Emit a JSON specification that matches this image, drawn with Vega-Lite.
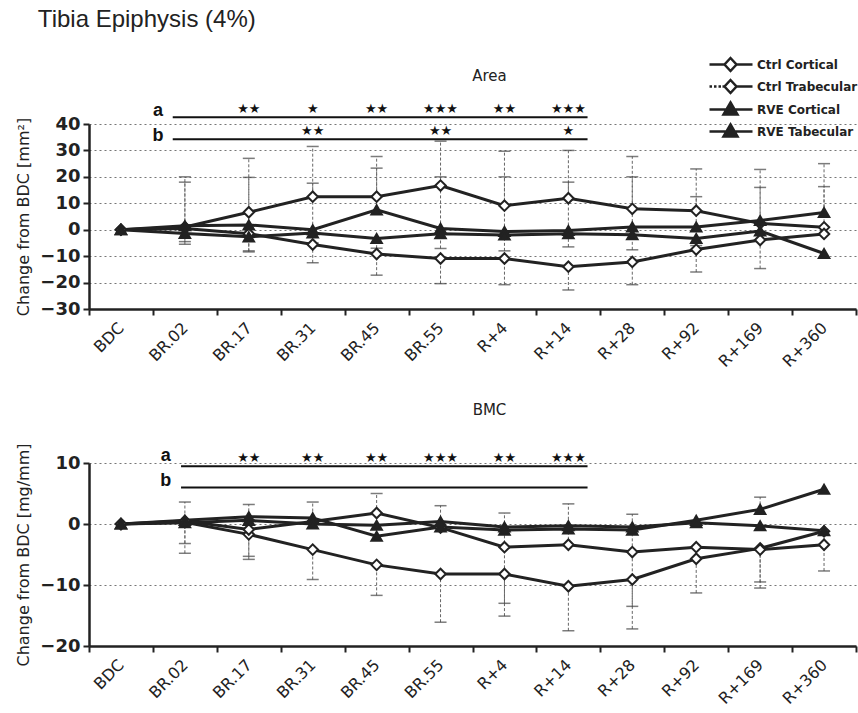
{
  "$schema": "https://vega.github.io/schema/vega-lite/v6.json",
  "padding": {"left": 15, "top": 8, "right": 0, "bottom": 0},
  "background": "white",
  "title": {"text": "Tibia Epiphysis (4%)", "anchor": "start", "font": "Liberation Sans", "fontSize": 24, "fontWeight": "normal", "color": "#222", "dx": 22, "offset": 26},
  "config": {
    "view": {"stroke": null},
    "axis": {"labelFont": "DejaVu Sans", "titleFont": "DejaVu Sans", "labelColor": "#222", "titleColor": "#222", "domainColor": "#222", "tickColor": "#222"},
    "title": {"font": "DejaVu Sans", "fontSize": 15, "fontWeight": "normal", "color": "#222"}
  },
  "datasets": {
    "pts": [
      {"p": "Area", "s": "Ctrl Cortical", "i": 0, "v": 0, "lo": 0, "hi": 0},
      {"p": "Area", "s": "Ctrl Cortical", "i": 1, "v": 1, "lo": 1, "hi": 20},
      {"p": "Area", "s": "Ctrl Cortical", "i": 2, "v": 6.6, "lo": 6.6, "hi": 27},
      {"p": "Area", "s": "Ctrl Cortical", "i": 3, "v": 12.5, "lo": 12.5, "hi": 31.5},
      {"p": "Area", "s": "Ctrl Cortical", "i": 4, "v": 12.5, "lo": 12.5, "hi": 27.7},
      {"p": "Area", "s": "Ctrl Cortical", "i": 5, "v": 16.7, "lo": 16.7, "hi": 33.5},
      {"p": "Area", "s": "Ctrl Cortical", "i": 6, "v": 9.1, "lo": 9.1, "hi": 29.7},
      {"p": "Area", "s": "Ctrl Cortical", "i": 7, "v": 11.9, "lo": 11.9, "hi": 30},
      {"p": "Area", "s": "Ctrl Cortical", "i": 8, "v": 7.9, "lo": 7.9, "hi": 27.7},
      {"p": "Area", "s": "Ctrl Cortical", "i": 9, "v": 7.2, "lo": 7.2, "hi": 23},
      {"p": "Area", "s": "Ctrl Cortical", "i": 10, "v": 2.4, "lo": 2.4, "hi": 22.8},
      {"p": "Area", "s": "Ctrl Cortical", "i": 11, "v": 0.9, "lo": 0.9, "hi": 25},
      {"p": "Area", "s": "Ctrl Trabecular", "i": 0, "v": 0, "lo": 0, "hi": 0},
      {"p": "Area", "s": "Ctrl Trabecular", "i": 1, "v": 0.5, "lo": -5.5, "hi": 0.5},
      {"p": "Area", "s": "Ctrl Trabecular", "i": 2, "v": -1.5, "lo": -8.4, "hi": -1.5},
      {"p": "Area", "s": "Ctrl Trabecular", "i": 3, "v": -5.6, "lo": -12.5, "hi": -5.6},
      {"p": "Area", "s": "Ctrl Trabecular", "i": 4, "v": -9.2, "lo": -17.2, "hi": -9.2},
      {"p": "Area", "s": "Ctrl Trabecular", "i": 5, "v": -10.9, "lo": -20.4, "hi": -10.9},
      {"p": "Area", "s": "Ctrl Trabecular", "i": 6, "v": -10.9, "lo": -20.8, "hi": -10.9},
      {"p": "Area", "s": "Ctrl Trabecular", "i": 7, "v": -14, "lo": -22.8, "hi": -14},
      {"p": "Area", "s": "Ctrl Trabecular", "i": 8, "v": -12.2, "lo": -20.8, "hi": -12.2},
      {"p": "Area", "s": "Ctrl Trabecular", "i": 9, "v": -7.5, "lo": -16, "hi": -7.5},
      {"p": "Area", "s": "Ctrl Trabecular", "i": 10, "v": -3.9, "lo": -14.7, "hi": -3.9},
      {"p": "Area", "s": "Ctrl Trabecular", "i": 11, "v": -1.6, "lo": -1.6, "hi": -1.6},
      {"p": "Area", "s": "RVE Cortical", "i": 0, "v": 0, "lo": 0, "hi": 0},
      {"p": "Area", "s": "RVE Cortical", "i": 1, "v": 1.5, "lo": 1.5, "hi": 18},
      {"p": "Area", "s": "RVE Cortical", "i": 2, "v": 1.8, "lo": 1.8, "hi": 19.8},
      {"p": "Area", "s": "RVE Cortical", "i": 3, "v": 0, "lo": 0, "hi": 17.6},
      {"p": "Area", "s": "RVE Cortical", "i": 4, "v": 7.5, "lo": 7.5, "hi": 23.3},
      {"p": "Area", "s": "RVE Cortical", "i": 5, "v": 0.5, "lo": 0.5, "hi": 20},
      {"p": "Area", "s": "RVE Cortical", "i": 6, "v": -0.7, "lo": -0.7, "hi": 20},
      {"p": "Area", "s": "RVE Cortical", "i": 7, "v": -0.3, "lo": -0.3, "hi": 18},
      {"p": "Area", "s": "RVE Cortical", "i": 8, "v": 1, "lo": 1, "hi": 20},
      {"p": "Area", "s": "RVE Cortical", "i": 9, "v": 1, "lo": 1, "hi": 12.5},
      {"p": "Area", "s": "RVE Cortical", "i": 10, "v": 3.5, "lo": 3.5, "hi": 16},
      {"p": "Area", "s": "RVE Cortical", "i": 11, "v": 6.5, "lo": 6.5, "hi": 16.3},
      {"p": "Area", "s": "RVE Tabecular", "i": 0, "v": 0, "lo": 0, "hi": 0},
      {"p": "Area", "s": "RVE Tabecular", "i": 1, "v": -1.4, "lo": -4.5, "hi": -1.4},
      {"p": "Area", "s": "RVE Tabecular", "i": 2, "v": -2.7, "lo": -8, "hi": -2.7},
      {"p": "Area", "s": "RVE Tabecular", "i": 3, "v": -1.2, "lo": -5, "hi": -1.2},
      {"p": "Area", "s": "RVE Tabecular", "i": 4, "v": -3.3, "lo": -7, "hi": -3.3},
      {"p": "Area", "s": "RVE Tabecular", "i": 5, "v": -1.5, "lo": -7.1, "hi": -1.5},
      {"p": "Area", "s": "RVE Tabecular", "i": 6, "v": -2, "lo": -8, "hi": -2},
      {"p": "Area", "s": "RVE Tabecular", "i": 7, "v": -1.5, "lo": -6.5, "hi": -1.5},
      {"p": "Area", "s": "RVE Tabecular", "i": 8, "v": -1.9, "lo": -7.6, "hi": -1.9},
      {"p": "Area", "s": "RVE Tabecular", "i": 9, "v": -3.3, "lo": -6, "hi": -3.3},
      {"p": "Area", "s": "RVE Tabecular", "i": 10, "v": -0.5, "lo": -4, "hi": -0.5},
      {"p": "Area", "s": "RVE Tabecular", "i": 11, "v": -9, "lo": -9, "hi": -9},
      {"p": "BMC", "s": "Ctrl Cortical", "i": 0, "v": 0, "lo": 0, "hi": 0},
      {"p": "BMC", "s": "Ctrl Cortical", "i": 1, "v": 0.3, "lo": -4.8, "hi": 0.3},
      {"p": "BMC", "s": "Ctrl Cortical", "i": 2, "v": -1.7, "lo": -5.8, "hi": -1.7},
      {"p": "BMC", "s": "Ctrl Cortical", "i": 3, "v": -4.2, "lo": -9.1, "hi": -4.2},
      {"p": "BMC", "s": "Ctrl Cortical", "i": 4, "v": -6.7, "lo": -11.7, "hi": -6.7},
      {"p": "BMC", "s": "Ctrl Cortical", "i": 5, "v": -8.2, "lo": -16.1, "hi": -8.2},
      {"p": "BMC", "s": "Ctrl Cortical", "i": 6, "v": -8.2, "lo": -15.1, "hi": -8.2},
      {"p": "BMC", "s": "Ctrl Cortical", "i": 7, "v": -10.2, "lo": -17.5, "hi": -10.2},
      {"p": "BMC", "s": "Ctrl Cortical", "i": 8, "v": -9.1, "lo": -17.2, "hi": -9.1},
      {"p": "BMC", "s": "Ctrl Cortical", "i": 9, "v": -5.7, "lo": -11.3, "hi": -5.7},
      {"p": "BMC", "s": "Ctrl Cortical", "i": 10, "v": -4.0, "lo": -10.5, "hi": -4.0},
      {"p": "BMC", "s": "Ctrl Cortical", "i": 11, "v": -1.2, "lo": -7.7, "hi": -1.2},
      {"p": "BMC", "s": "Ctrl Trabecular", "i": 0, "v": 0, "lo": 0, "hi": 0},
      {"p": "BMC", "s": "Ctrl Trabecular", "i": 1, "v": 0.5, "lo": -3.2, "hi": 3.6},
      {"p": "BMC", "s": "Ctrl Trabecular", "i": 2, "v": -0.9, "lo": -5.3, "hi": 3.2},
      {"p": "BMC", "s": "Ctrl Trabecular", "i": 3, "v": 0.4, "lo": 0.4, "hi": 3.6},
      {"p": "BMC", "s": "Ctrl Trabecular", "i": 4, "v": 1.8, "lo": 1.8, "hi": 5},
      {"p": "BMC", "s": "Ctrl Trabecular", "i": 5, "v": -0.6, "lo": -0.6, "hi": 3},
      {"p": "BMC", "s": "Ctrl Trabecular", "i": 6, "v": -3.8, "lo": -13, "hi": 1.8},
      {"p": "BMC", "s": "Ctrl Trabecular", "i": 7, "v": -3.4, "lo": -3.4, "hi": 3.3},
      {"p": "BMC", "s": "Ctrl Trabecular", "i": 8, "v": -4.6, "lo": -13.5, "hi": 1.6},
      {"p": "BMC", "s": "Ctrl Trabecular", "i": 9, "v": -3.8, "lo": -3.8, "hi": -3.8},
      {"p": "BMC", "s": "Ctrl Trabecular", "i": 10, "v": -4.2, "lo": -9.5, "hi": -4.2},
      {"p": "BMC", "s": "Ctrl Trabecular", "i": 11, "v": -3.4, "lo": -3.4, "hi": -3.4},
      {"p": "BMC", "s": "RVE Cortical", "i": 0, "v": 0, "lo": 0, "hi": 0},
      {"p": "BMC", "s": "RVE Cortical", "i": 1, "v": 0.6, "lo": 0.6, "hi": 0.6},
      {"p": "BMC", "s": "RVE Cortical", "i": 2, "v": 1.2, "lo": 1.2, "hi": 1.2},
      {"p": "BMC", "s": "RVE Cortical", "i": 3, "v": 1.0, "lo": 1.0, "hi": 1.0},
      {"p": "BMC", "s": "RVE Cortical", "i": 4, "v": -2.0, "lo": -2.0, "hi": -2.0},
      {"p": "BMC", "s": "RVE Cortical", "i": 5, "v": -0.5, "lo": -0.5, "hi": -0.5},
      {"p": "BMC", "s": "RVE Cortical", "i": 6, "v": -1.0, "lo": -1.0, "hi": -1.0},
      {"p": "BMC", "s": "RVE Cortical", "i": 7, "v": -0.8, "lo": -0.8, "hi": -0.8},
      {"p": "BMC", "s": "RVE Cortical", "i": 8, "v": -1.0, "lo": -1.0, "hi": -1.0},
      {"p": "BMC", "s": "RVE Cortical", "i": 9, "v": 0.6, "lo": 0.6, "hi": 0.6},
      {"p": "BMC", "s": "RVE Cortical", "i": 10, "v": 2.4, "lo": 2.4, "hi": 4.4},
      {"p": "BMC", "s": "RVE Cortical", "i": 11, "v": 5.7, "lo": 5.7, "hi": 5.7},
      {"p": "BMC", "s": "RVE Tabecular", "i": 0, "v": 0, "lo": 0, "hi": 0},
      {"p": "BMC", "s": "RVE Tabecular", "i": 1, "v": 0.2, "lo": 0.2, "hi": 0.2},
      {"p": "BMC", "s": "RVE Tabecular", "i": 2, "v": 0.6, "lo": 0.6, "hi": 0.6},
      {"p": "BMC", "s": "RVE Tabecular", "i": 3, "v": 0, "lo": 0, "hi": 0},
      {"p": "BMC", "s": "RVE Tabecular", "i": 4, "v": -0.2, "lo": -0.2, "hi": -0.2},
      {"p": "BMC", "s": "RVE Tabecular", "i": 5, "v": 0.4, "lo": 0.4, "hi": 0.4},
      {"p": "BMC", "s": "RVE Tabecular", "i": 6, "v": -0.5, "lo": -0.5, "hi": -0.5},
      {"p": "BMC", "s": "RVE Tabecular", "i": 7, "v": -0.3, "lo": -0.3, "hi": -0.3},
      {"p": "BMC", "s": "RVE Tabecular", "i": 8, "v": -0.5, "lo": -0.5, "hi": -0.5},
      {"p": "BMC", "s": "RVE Tabecular", "i": 9, "v": 0.2, "lo": 0.2, "hi": 0.2},
      {"p": "BMC", "s": "RVE Tabecular", "i": 10, "v": -0.3, "lo": -0.3, "hi": -0.3},
      {"p": "BMC", "s": "RVE Tabecular", "i": 11, "v": -1.1, "lo": -1.1, "hi": -1.1}
    ],
    "series": [
      {"s": "Ctrl Cortical"},
      {"s": "Ctrl Trabecular"},
      {"s": "RVE Cortical"},
      {"s": "RVE Tabecular"}
    ],
    "sig": [
      {"p": "Area", "k": "a", "x0": 0.81, "x1": 7.3, "y": 42.6},
      {"p": "Area", "k": "b", "x0": 0.81, "x1": 7.3, "y": 34.2},
      {"p": "BMC", "k": "a", "x0": 0.94, "x1": 7.3, "y": 9.46},
      {"p": "BMC", "k": "b", "x0": 0.94, "x1": 7.3, "y": 6.0}
    ],
    "letters": [
      {"p": "Area", "t": "a", "x": 0.58, "y": 44.9},
      {"p": "Area", "t": "b", "x": 0.58, "y": 35.6},
      {"p": "BMC", "t": "a", "x": 0.7, "y": 11.1},
      {"p": "BMC", "t": "b", "x": 0.7, "y": 7.0}
    ],
    "stars": [
      {"p": "Area", "i": 2, "y": 45.6, "t": "★★"},
      {"p": "Area", "i": 3, "y": 45.6, "t": "★"},
      {"p": "Area", "i": 4, "y": 45.6, "t": "★★"},
      {"p": "Area", "i": 5, "y": 45.6, "t": "★★★"},
      {"p": "Area", "i": 6, "y": 45.6, "t": "★★"},
      {"p": "Area", "i": 7, "y": 45.6, "t": "★★★"},
      {"p": "Area", "i": 3, "y": 37.3, "t": "★★"},
      {"p": "Area", "i": 5, "y": 37.3, "t": "★★"},
      {"p": "Area", "i": 7, "y": 37.3, "t": "★"},
      {"p": "BMC", "i": 2, "y": 10.9, "t": "★★"},
      {"p": "BMC", "i": 3, "y": 10.9, "t": "★★"},
      {"p": "BMC", "i": 4, "y": 10.9, "t": "★★"},
      {"p": "BMC", "i": 5, "y": 10.9, "t": "★★★"},
      {"p": "BMC", "i": 6, "y": 10.9, "t": "★★"},
      {"p": "BMC", "i": 7, "y": 10.9, "t": "★★★"}
    ]
  },
  "spacing": 32,
  "vconcat": [
    {
      "width": 767,
      "height": 185,
      "title": {"text": "Area", "dx": 17, "offset": -26},
      "resolve": {"axis": {"x": "independent", "y": "independent"}, "scale": {"shape": "independent"}},
      "layer": [
        {
          "data": {"name": "pts"},
          "transform": [{"filter": "datum.p === 'Area' && datum.hi > datum.lo"}],
          "mark": {"type": "rule", "strokeDash": [3, 2], "color": "#666", "strokeWidth": 1},
          "encoding": {
            "x": {"field": "i", "type": "quantitative", "scale": {"domain": [-0.5, 11.5], "nice": false, "zero": false}, "axis": null},
            "y": {"field": "lo", "type": "quantitative", "scale": {"domain": [-30, 40], "nice": false, "zero": false}, "axis": null},
            "y2": {"field": "hi"}
          }
        },
        {
          "data": {"name": "pts"},
          "transform": [{"filter": "datum.p === 'Area' && datum.hi > datum.v"}],
          "mark": {"type": "tick", "orient": "horizontal", "size": 12, "thickness": 1.5, "color": "#444"},
          "encoding": {
            "x": {"field": "i", "type": "quantitative", "scale": {"domain": [-0.5, 11.5], "nice": false, "zero": false}, "axis": null},
            "y": {"field": "hi", "type": "quantitative", "scale": {"domain": [-30, 40], "nice": false, "zero": false}, "axis": null}
          }
        },
        {
          "data": {"name": "pts"},
          "transform": [{"filter": "datum.p === 'Area' && datum.lo < datum.v"}],
          "mark": {"type": "tick", "orient": "horizontal", "size": 12, "thickness": 1.5, "color": "#444"},
          "encoding": {
            "x": {"field": "i", "type": "quantitative", "scale": {"domain": [-0.5, 11.5], "nice": false, "zero": false}, "axis": null},
            "y": {"field": "lo", "type": "quantitative", "scale": {"domain": [-30, 40], "nice": false, "zero": false}, "axis": null}
          }
        },
        {
          "data": {"name": "pts"},
          "transform": [{"filter": "datum.p === 'Area'"}],
          "mark": {"type": "line", "color": "#222", "strokeWidth": 3},
          "encoding": {
            "x": {"field": "i", "type": "quantitative", "scale": {"domain": [-0.5, 11.5], "nice": false, "zero": false},
                  "axis": {"orient": "bottom", "title": null, "values": [0,1,2,3,4,5,6,7,8,9,10,11], "labelExpr": "['BDC','BR.02','BR.17','BR.31','BR.45','BR.55','R+4','R+14','R+28','R+92','R+169','R+360'][datum.value]", "ticks": false, "domain": false, "grid": false, "labelAngle": -45, "labelAlign": "right", "labelBaseline": "middle", "labelFontSize": 16, "labelPadding": 16, "labelOverlap": false, "labelBound": false, "labelFlush": false}},
            "y": {"field": "v", "type": "quantitative", "scale": {"domain": [-30, 40], "nice": false, "zero": false},
                  "axis": {"orient": "left", "title": "Change from BDC [mm²]", "titleFontSize": 16, "titleFontWeight": "normal", "titlePadding": 8, "values": [-30,-20,-10,0,10,20,30,40], "labelFontSize": 18, "labelFontWeight": "bold", "grid": true, "gridDash": [2, 3], "gridColor": "#777", "domainWidth": 2.5, "tickSize": 6, "tickWidth": 2, "labelPadding": 3}},
            "detail": {"field": "s"}
          }
        },
        {
          "data": {"name": "pts"},
          "transform": [{"filter": "datum.p === 'Area'"}],
          "mark": {"type": "point", "filled": true, "stroke": "#222", "strokeWidth": 2, "size": 110, "opacity": 1},
          "encoding": {
            "x": {"field": "i", "type": "quantitative", "scale": {"domain": [-0.5, 11.5], "nice": false, "zero": false}, "axis": null},
            "y": {"field": "v", "type": "quantitative", "scale": {"domain": [-30, 40], "nice": false, "zero": false}, "axis": null},
            "shape": {"field": "s", "type": "nominal", "scale": {"domain": ["Ctrl Cortical", "Ctrl Trabecular", "RVE Cortical", "RVE Tabecular"], "range": ["diamond", "diamond", "triangle-up", "triangle-up"]}, "legend": null},
            "fill": {"field": "s", "type": "nominal", "scale": {"domain": ["Ctrl Cortical", "Ctrl Trabecular", "RVE Cortical", "RVE Tabecular"], "range": ["white", "white", "#222", "#222"]}, "legend": null}
          }
        },
        {
          "data": {"name": "series"},
          "mark": {"type": "point", "filled": false, "stroke": "#222", "strokeWidth": 2.5, "opacity": 1},
          "encoding": {
            "x": {"field": "none", "type": "quantitative", "scale": {"domain": [-0.5, 11.5], "nice": false, "zero": false}, "axis": null},
            "y": {"field": "none", "type": "quantitative", "scale": {"domain": [-30, 40], "nice": false, "zero": false}, "axis": null},
            "shape": {"field": "s", "type": "nominal", "scale": {"domain": ["Ctrl Cortical", "Ctrl Trabecular", "RVE Cortical", "RVE Tabecular"], "range": ["M-1,0L2,0M4.4,0L7.6,0M3.2,-1.3L4.4,0L3.2,1.3L2,0Z", "M-1,0L-0.5,0M-0.1,0L0.4,0M0.8,0L1.3,0M1.6,0L2,0M4.4,0L7.6,0M3.2,-1.3L4.4,0L3.2,1.3L2,0Z", "M-1,0L7.6,0M3.2,-1.4L4.6,1L1.8,1ZM3.2,-0.76L4.04,0.68L2.36,0.68ZM3.2,-0.2L3.55,0.4L2.85,0.4Z", "M-1,0L7.6,0M3.2,-1.4L4.6,1L1.8,1ZM3.2,-0.76L4.04,0.68L2.36,0.68ZM3.2,-0.2L3.55,0.4L2.85,0.4Z"]},
                      "legend": {"orient": "none", "legendX": 619, "legendY": -66, "title": null, "symbolSize": 100, "labelOffset": 36, "rowPadding": -1, "labelFont": "DejaVu Sans", "labelFontSize": 12, "labelFontWeight": "bold", "labelColor": "#222", "symbolStrokeColor": "#222", "symbolStrokeWidth": 2.5, "symbolOpacity": 1,
                                 "encode": {"symbols": {
                                   "fill": {"value": {"expr": "datum.index >= 2 ? '#222' : 'white'"}},
                                   "stroke": {"value": "#222"},
                                   "opacity": {"value": 1}
                                 }}}}
          }
        },
        {
          "data": {"name": "sig"},
          "transform": [{"filter": "datum.p === 'Area'"}],
          "mark": {"type": "rule", "color": "#111", "strokeWidth": 2},
          "encoding": {
            "x": {"field": "x0", "type": "quantitative", "scale": {"domain": [-0.5, 11.5], "nice": false, "zero": false},
                  "axis": {"orient": "bottom", "title": null, "values": [-0.5,0.5,1.5,2.5,3.5,4.5,5.5,6.5,7.5,8.5,9.5,10.5,11.5], "labels": false, "grid": false, "ticks": true, "tickSize": 6, "tickWidth": 2, "domainWidth": 2.5}},
            "x2": {"field": "x1"},
            "y": {"field": "y", "type": "quantitative", "scale": {"domain": [-30, 40], "nice": false, "zero": false}, "axis": null}
          }
        },
        {
          "data": {"name": "stars"},
          "transform": [{"filter": "datum.p === 'Area'"}],
          "mark": {"type": "text", "font": "DejaVu Sans", "fontSize": 13, "color": "#111", "baseline": "middle"},
          "encoding": {
            "x": {"field": "i", "type": "quantitative", "scale": {"domain": [-0.5, 11.5], "nice": false, "zero": false}, "axis": null},
            "y": {"field": "y", "type": "quantitative", "scale": {"domain": [-30, 40], "nice": false, "zero": false}, "axis": null},
            "text": {"field": "t"}
          }
        },
        {
          "data": {"name": "letters"},
          "transform": [{"filter": "datum.p === 'Area'"}],
          "mark": {"type": "text", "font": "Liberation Sans", "fontSize": 18, "fontWeight": "bold", "color": "#111", "baseline": "middle"},
          "encoding": {
            "x": {"field": "x", "type": "quantitative", "scale": {"domain": [-0.5, 11.5], "nice": false, "zero": false}, "axis": null},
            "y": {"field": "y", "type": "quantitative", "scale": {"domain": [-30, 40], "nice": false, "zero": false}, "axis": null},
            "text": {"field": "t"}
          }
        }
      ]
    },
    {
      "width": 767,
      "height": 183,
      "title": {"text": "BMC", "dx": 17, "offset": 25},
      "resolve": {"axis": {"x": "independent", "y": "independent"}},
      "layer": [
        {
          "data": {"name": "pts"},
          "transform": [{"filter": "datum.p === 'BMC' && datum.hi > datum.lo"}],
          "mark": {"type": "rule", "strokeDash": [3, 2], "color": "#666", "strokeWidth": 1},
          "encoding": {
            "x": {"field": "i", "type": "quantitative", "scale": {"domain": [-0.5, 11.5], "nice": false, "zero": false}, "axis": null},
            "y": {"field": "lo", "type": "quantitative", "scale": {"domain": [-20, 10], "nice": false, "zero": false}, "axis": null},
            "y2": {"field": "hi"}
          }
        },
        {
          "data": {"name": "pts"},
          "transform": [{"filter": "datum.p === 'BMC' && datum.hi > datum.v"}],
          "mark": {"type": "tick", "orient": "horizontal", "size": 12, "thickness": 1.5, "color": "#444"},
          "encoding": {
            "x": {"field": "i", "type": "quantitative", "scale": {"domain": [-0.5, 11.5], "nice": false, "zero": false}, "axis": null},
            "y": {"field": "hi", "type": "quantitative", "scale": {"domain": [-20, 10], "nice": false, "zero": false}, "axis": null}
          }
        },
        {
          "data": {"name": "pts"},
          "transform": [{"filter": "datum.p === 'BMC' && datum.lo < datum.v"}],
          "mark": {"type": "tick", "orient": "horizontal", "size": 12, "thickness": 1.5, "color": "#444"},
          "encoding": {
            "x": {"field": "i", "type": "quantitative", "scale": {"domain": [-0.5, 11.5], "nice": false, "zero": false}, "axis": null},
            "y": {"field": "lo", "type": "quantitative", "scale": {"domain": [-20, 10], "nice": false, "zero": false}, "axis": null}
          }
        },
        {
          "data": {"name": "pts"},
          "transform": [{"filter": "datum.p === 'BMC'"}],
          "mark": {"type": "line", "color": "#222", "strokeWidth": 3},
          "encoding": {
            "x": {"field": "i", "type": "quantitative", "scale": {"domain": [-0.5, 11.5], "nice": false, "zero": false},
                  "axis": {"orient": "bottom", "title": null, "values": [0,1,2,3,4,5,6,7,8,9,10,11], "labelExpr": "['BDC','BR.02','BR.17','BR.31','BR.45','BR.55','R+4','R+14','R+28','R+92','R+169','R+360'][datum.value]", "ticks": false, "domain": false, "grid": false, "labelAngle": -45, "labelAlign": "right", "labelBaseline": "middle", "labelFontSize": 16, "labelPadding": 16, "labelOverlap": false, "labelBound": false, "labelFlush": false}},
            "y": {"field": "v", "type": "quantitative", "scale": {"domain": [-20, 10], "nice": false, "zero": false},
                  "axis": {"orient": "left", "title": "Change from BDC [mg/mm]", "titleFontSize": 16, "titleFontWeight": "normal", "titlePadding": 8, "values": [-20,-10,0,10], "labelFontSize": 18, "labelFontWeight": "bold", "grid": true, "gridDash": [2, 3], "gridColor": "#777", "domainWidth": 2.5, "tickSize": 6, "tickWidth": 2, "labelPadding": 3}},
            "detail": {"field": "s"}
          }
        },
        {
          "data": {"name": "pts"},
          "transform": [{"filter": "datum.p === 'BMC'"}],
          "mark": {"type": "point", "filled": true, "stroke": "#222", "strokeWidth": 2, "size": 110, "opacity": 1},
          "encoding": {
            "x": {"field": "i", "type": "quantitative", "scale": {"domain": [-0.5, 11.5], "nice": false, "zero": false}, "axis": null},
            "y": {"field": "v", "type": "quantitative", "scale": {"domain": [-20, 10], "nice": false, "zero": false}, "axis": null},
            "shape": {"field": "s", "type": "nominal", "scale": {"domain": ["Ctrl Cortical", "Ctrl Trabecular", "RVE Cortical", "RVE Tabecular"], "range": ["diamond", "diamond", "triangle-up", "triangle-up"]}, "legend": null},
            "fill": {"field": "s", "type": "nominal", "scale": {"domain": ["Ctrl Cortical", "Ctrl Trabecular", "RVE Cortical", "RVE Tabecular"], "range": ["white", "white", "#222", "#222"]}, "legend": null}
          }
        },
        {
          "data": {"name": "sig"},
          "transform": [{"filter": "datum.p === 'BMC'"}],
          "mark": {"type": "rule", "color": "#111", "strokeWidth": 2},
          "encoding": {
            "x": {"field": "x0", "type": "quantitative", "scale": {"domain": [-0.5, 11.5], "nice": false, "zero": false},
                  "axis": {"orient": "bottom", "title": null, "values": [-0.5,0.5,1.5,2.5,3.5,4.5,5.5,6.5,7.5,8.5,9.5,10.5,11.5], "labels": false, "grid": false, "ticks": true, "tickSize": 6, "tickWidth": 2, "domainWidth": 2.5}},
            "x2": {"field": "x1"},
            "y": {"field": "y", "type": "quantitative", "scale": {"domain": [-20, 10], "nice": false, "zero": false}, "axis": null}
          }
        },
        {
          "data": {"name": "stars"},
          "transform": [{"filter": "datum.p === 'BMC'"}],
          "mark": {"type": "text", "font": "DejaVu Sans", "fontSize": 13, "color": "#111", "baseline": "middle"},
          "encoding": {
            "x": {"field": "i", "type": "quantitative", "scale": {"domain": [-0.5, 11.5], "nice": false, "zero": false}, "axis": null},
            "y": {"field": "y", "type": "quantitative", "scale": {"domain": [-20, 10], "nice": false, "zero": false}, "axis": null},
            "text": {"field": "t"}
          }
        },
        {
          "data": {"name": "letters"},
          "transform": [{"filter": "datum.p === 'BMC'"}],
          "mark": {"type": "text", "font": "Liberation Sans", "fontSize": 18, "fontWeight": "bold", "color": "#111", "baseline": "middle"},
          "encoding": {
            "x": {"field": "x", "type": "quantitative", "scale": {"domain": [-0.5, 11.5], "nice": false, "zero": false}, "axis": null},
            "y": {"field": "y", "type": "quantitative", "scale": {"domain": [-20, 10], "nice": false, "zero": false}, "axis": null},
            "text": {"field": "t"}
          }
        }
      ]
    }
  ]
}
